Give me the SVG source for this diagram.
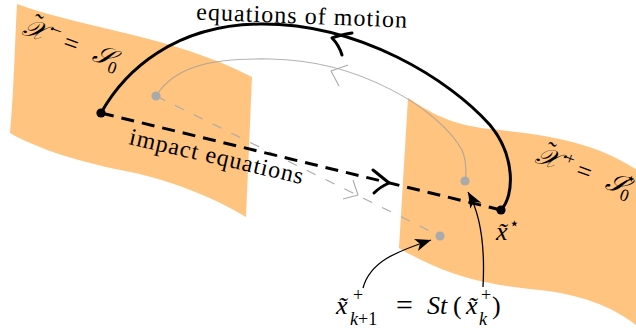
<svg xmlns="http://www.w3.org/2000/svg" width="636" height="329" viewBox="0 0 636 329">
<defs>
<style>
.sheet{fill:#ffc480;stroke:none}
.thick{fill:none;stroke:#000;stroke-width:3;stroke-linecap:round}
.dashk{fill:none;stroke:#000;stroke-width:3;stroke-dasharray:13 8}
.gray{fill:none;stroke:#999;stroke-width:1.1;opacity:0.75}
.grayd{fill:none;stroke:#aaa;stroke-width:1.1;stroke-dasharray:10 11}
.chev{fill:none;stroke:#000;stroke-width:3;stroke-linecap:round;stroke-linejoin:round}
.chevg{fill:none;stroke:#aaa;stroke-width:1.1;stroke-linejoin:round}
.ann{fill:none;stroke:#000;stroke-width:1.3}
.dotk{fill:#000}
.dotg{fill:#aaa}
</style>
<marker id="ah" markerUnits="userSpaceOnUse" markerWidth="20" markerHeight="20" viewBox="-17 -8 19 16" refX="0" refY="0" orient="auto">
<path d="M0,0 L-15,-6 L-11,0 L-15,6 Z" fill="#000"/>
</marker>
</defs>

<g id="sheet-minus">
<path class="sheet" d="M17,4 C90,30 170,35 252,77 L246,217 C215,198 170,180 130,172 C80,162 40,150 10,133 C14,90 15,40 17,4 Z"/>
</g>
<g id="sheet-plus">
<path class="sheet" d="M408,98 C430,112 450,125 490,129 C560,136 600,145 640,172 L640,330 L636,325 C610,305 580,295 540,290 C490,285 450,278 399,248 Z"/>
</g>

<g id="connectors">
<path class="gray" d="M156,96 C175,65 215,58 270,59 C360,60 440,110 462,150 C468,165 466,175 465,181"/>
<path class="chevg" d="M348,65 L331,71 L339,86"/>
<path class="grayd" d="M156,96 L440,236"/>
<path class="chevg" d="M353,180 L358,195 L343,199"/>
<path class="thick" d="M101,113 C125,70 175,25 260,24 C360,23 450,80 490,125 C515,155 515,195 501,210"/>
<path class="chev" d="M352,33 Q340,35 332,38 Q339,45 342,55"/>
<path class="dashk" d="M101,113 L501,210"/>
<path class="chev" d="M373,170 Q383,178 389,183 Q380,187 374,193"/>
<path class="ann" marker-end="url(#ah)" d="M363,288 C370,262 395,252 431,240"/>
<path class="ann" marker-end="url(#ah)" d="M483,287 C485,250 481,215 468,192"/>
</g>

<g id="node-start"><circle class="dotk" cx="101" cy="113" r="4.6"/></g>
<g id="node-end"><circle class="dotk" cx="501" cy="210" r="4.6"/></g>
<g id="node-gray1"><circle class="dotg" cx="156" cy="96" r="4.6"/></g>
<g id="node-gray2"><circle class="dotg" cx="465" cy="181" r="4.6"/></g>
<g id="node-gray3"><circle class="dotg" cx="440" cy="236" r="4.6"/></g>

<g id="labels" font-family="Liberation Serif, serif" fill="#000">
<text font-size="24" transform="translate(196,19.5) rotate(2.2)" textLength="211" lengthAdjust="spacing">equations of motion</text>
<text font-size="24" transform="translate(128,144) rotate(13)" textLength="178" lengthAdjust="spacing">impact equations</text>
<text font-size="26" font-style="italic" transform="translate(21,34) rotate(20)"><tspan x="0" y="0">𝒳</tspan><tspan x="7" y="-7" font-style="normal">˜</tspan><tspan font-size="17" font-style="normal" x="28" y="-10">−</tspan><tspan font-style="normal" x="43" y="0">=</tspan><tspan x="75" y="0">𝒮</tspan><tspan font-size="17" font-style="normal" x="93" y="6">0</tspan></text>
<text font-size="26" font-style="italic" transform="translate(534,162) rotate(20)"><tspan x="0" y="0">𝒳</tspan><tspan x="7" y="-7" font-style="normal">˜</tspan><tspan font-size="17" font-style="normal" x="28" y="-10">+</tspan><tspan font-style="normal" x="43" y="0">=</tspan><tspan x="75" y="0">𝒮</tspan><tspan font-size="17" font-style="normal" x="92" y="6">0</tspan><tspan font-size="17" font-style="normal" x="91" y="-12">⋆</tspan></text>
<text font-size="26" font-style="italic"><tspan x="496" y="240">x̃</tspan><tspan font-size="17" font-style="normal" x="509" y="229">⋆</tspan></text>
<text font-size="26" font-style="italic"><tspan x="336" y="314">x̃</tspan><tspan font-size="18" font-style="normal" x="353" y="301">+</tspan><tspan font-size="18" x="350" y="325">k</tspan><tspan font-size="18" font-style="normal">+1</tspan><tspan font-style="normal" font-size="30" x="396" y="315">=</tspan><tspan x="427" y="314">St</tspan><tspan font-style="normal" x="453" y="314">(</tspan><tspan x="466" y="314">x̃</tspan><tspan font-size="18" font-style="normal" x="481" y="301">+</tspan><tspan font-size="18" x="479" y="325">k</tspan><tspan font-style="normal" x="492" y="314">)</tspan></text>
</g>
</svg>
